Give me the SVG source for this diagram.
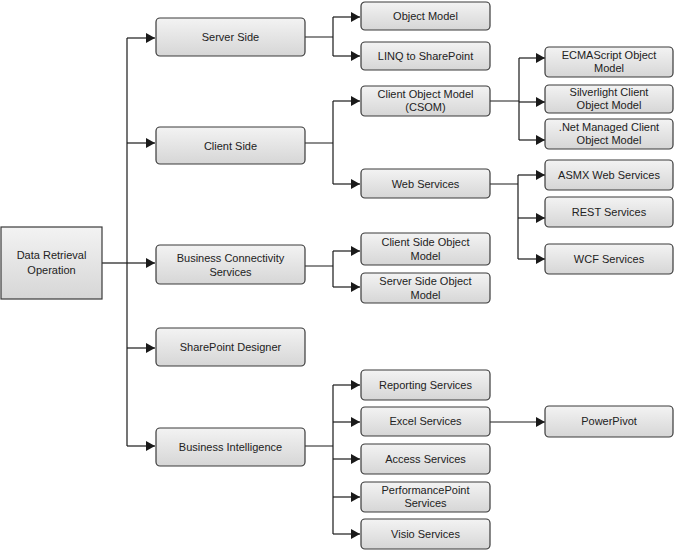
<svg xmlns="http://www.w3.org/2000/svg" width="674" height="551" viewBox="0 0 674 551">
<defs>
<linearGradient id="g" x1="0" y1="0" x2="0" y2="1">
<stop offset="0" stop-color="#f3f3f3"/>
<stop offset="1" stop-color="#d6d6d6"/>
</linearGradient>
<marker id="a" markerUnits="userSpaceOnUse" markerWidth="9" markerHeight="10" refX="9" refY="5" orient="auto">
<path d="M0,0 L9,5 L0,10 Z" fill="#1a1a1a"/>
</marker>
<style>
rect{fill:url(#g);stroke:#3a3a3a;stroke-width:1.2}
text{font-family:"Liberation Sans",Arial,sans-serif;font-size:11px;fill:#222;text-anchor:middle}
#connectors path{fill:none;stroke:#1a1a1a;stroke-width:1.2}
#connectors path.ar{marker-end:url(#a)}
</style>
</defs>
<rect width="674" height="551" fill="#fff" style="fill:#fff;stroke:none"/>
<g id="connectors">
<path d="M102,263 H127"/>
<path d="M127,38 V446"/>
<path class="ar" d="M127,38 H155"/>
<path class="ar" d="M127,143 H155"/>
<path class="ar" d="M127,263 H155"/>
<path class="ar" d="M127,348 H155"/>
<path class="ar" d="M127,446 H155"/>
<path d="M305,37 H333 M333,17 V56"/>
<path class="ar" d="M333,17 H360"/>
<path class="ar" d="M333,56 H360"/>
<path d="M305,143 H333 M333,101 V184"/>
<path class="ar" d="M333,101 H360"/>
<path class="ar" d="M333,184 H360"/>
<path d="M305,266 H333 M333,251 V287"/>
<path class="ar" d="M333,251 H360"/>
<path class="ar" d="M333,287 H360"/>
<path d="M305,446 H333 M333,385 V534"/>
<path class="ar" d="M333,385 H360"/>
<path class="ar" d="M333,422 H360"/>
<path class="ar" d="M333,459 H360"/>
<path class="ar" d="M333,497 H360"/>
<path class="ar" d="M333,534 H360"/>
<path d="M490,101 H519 M519,58 V140"/>
<path class="ar" d="M519,58 H545"/>
<path class="ar" d="M519,102 H545"/>
<path class="ar" d="M519,140 H545"/>
<path d="M490,184 H518 M518,175 V259"/>
<path class="ar" d="M518,175 H545"/>
<path class="ar" d="M518,218 H545"/>
<path class="ar" d="M518,259 H545"/>
<path class="ar" d="M490,422 H545"/>
</g>
<g id="root"><rect x="1" y="227" width="101" height="72"/><text x="51.5" y="259">Data Retrieval</text><text x="51.5" y="274">Operation</text></g>
<g id="server-side"><rect x="156" y="18" width="149" height="38" rx="4"/><text x="230.5" y="41">Server Side</text></g>
<g id="client-side"><rect x="156" y="127" width="149" height="37" rx="4"/><text x="230.5" y="149.5">Client Side</text></g>
<g id="bcs"><rect x="156" y="245" width="149" height="39" rx="4"/><text x="230.5" y="261.5">Business Connectivity</text><text x="230.5" y="275.5">Services</text></g>
<g id="spd"><rect x="156" y="328" width="149" height="38" rx="4"/><text x="230.5" y="351">SharePoint Designer</text></g>
<g id="bi"><rect x="156" y="428" width="149" height="38" rx="4"/><text x="230.5" y="451">Business Intelligence</text></g>
<g id="object-model"><rect x="361" y="2" width="129" height="28" rx="4"/><text x="425.5" y="20">Object Model</text></g>
<g id="linq"><rect x="361" y="42" width="129" height="28" rx="4"/><text x="425.5" y="60">LINQ to SharePoint</text></g>
<g id="csom"><rect x="361" y="86" width="129" height="30" rx="4"/><text x="425.5" y="98">Client Object Model</text><text x="425.5" y="111">(CSOM)</text></g>
<g id="web-services"><rect x="361" y="169" width="129" height="29" rx="4"/><text x="425.5" y="187.5">Web Services</text></g>
<g id="cs-om"><rect x="361" y="233" width="129" height="32" rx="4"/><text x="425.5" y="246">Client Side Object</text><text x="425.5" y="260">Model</text></g>
<g id="ss-om"><rect x="361" y="273" width="129" height="30" rx="4"/><text x="425.5" y="284.5">Server Side Object</text><text x="425.5" y="298.5">Model</text></g>
<g id="reporting"><rect x="361" y="370" width="129" height="30" rx="4"/><text x="425.5" y="389">Reporting Services</text></g>
<g id="excel"><rect x="361" y="407" width="129" height="29" rx="4"/><text x="425.5" y="425">Excel Services</text></g>
<g id="access"><rect x="361" y="444" width="129" height="30" rx="4"/><text x="425.5" y="463">Access Services</text></g>
<g id="performancepoint"><rect x="361" y="482" width="129" height="30" rx="4"/><text x="425.5" y="494">PerformancePoint</text><text x="425.5" y="507">Services</text></g>
<g id="visio"><rect x="361" y="519" width="129" height="30" rx="4"/><text x="425.5" y="538">Visio Services</text></g>
<g id="ecmascript"><rect x="545" y="47" width="128" height="30" rx="4"/><text x="609" y="59">ECMAScript Object</text><text x="609" y="72">Model</text></g>
<g id="silverlight"><rect x="545" y="85" width="128" height="28" rx="4"/><text x="609" y="95.5">Silverlight Client</text><text x="609" y="108.5">Object Model</text></g>
<g id="dotnet"><rect x="545" y="119" width="128" height="30" rx="4"/><text x="609" y="131">.Net Managed Client</text><text x="609" y="144">Object Model</text></g>
<g id="asmx"><rect x="545" y="160" width="128" height="30" rx="4"/><text x="609" y="179">ASMX Web Services</text></g>
<g id="rest"><rect x="545" y="197" width="128" height="30" rx="4"/><text x="609" y="216">REST Services</text></g>
<g id="wcf"><rect x="545" y="244" width="128" height="30" rx="4"/><text x="609" y="263">WCF Services</text></g>
<g id="powerpivot"><rect x="545" y="406" width="128" height="31" rx="4"/><text x="609" y="425">PowerPivot</text></g>
</svg>
